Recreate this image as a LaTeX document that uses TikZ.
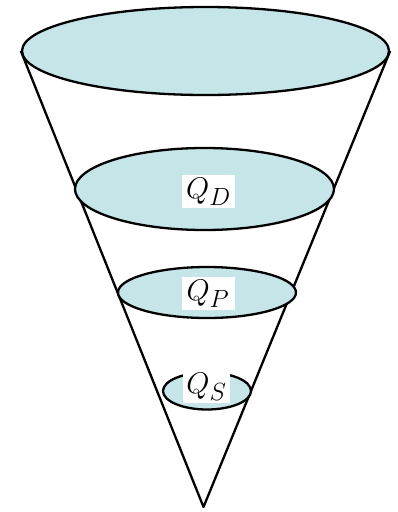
\documentclass[tikz,border=0pt]{standalone}
\usepackage{graphicx}
\usetikzlibrary{shapes.geometric,backgrounds}
\definecolor{disc}{RGB}{197,229,232}
\tikzset{
  disc/.style={ellipse, draw=black, fill=disc, line width=2.3pt, inner sep=0pt},
  conel/.style={draw=black, line width=2.3pt, line join=round},
  lbl/.style={fill=white, inner sep=0pt, minimum width=53pt, minimum height=33pt, font=\fontsize{24.88}{28}\selectfont}
}
\newcommand{\biglbl}[1]{\scalebox{1.2}{$#1$}}
\begin{document}
\begin{tikzpicture}[x=1pt,y=-1pt]
\useasboundingbox (0,0) rectangle (398,512);
\node[disc, minimum width=367pt, minimum height=88pt] (top) at (205.5,51) {};
\coordinate (apex) at (203.5,507);
\begin{scope}[on background layer]
\draw[conel] (top.west) -- (apex) -- (top.east);
\end{scope}
\node[disc, minimum width=259pt, minimum height=82pt] (d) at (204.5,189) {};
\node[disc, minimum width=178pt, minimum height=51pt] (p) at (207,292.5) {};
\node[disc, minimum width=88pt, minimum height=37pt] (s) at (207,391) {};
\node[lbl] (qd) at (208.5,191.5) {\biglbl{Q_D}};
\node[lbl] (qp) at (208,293.5) {\biglbl{Q_P}};
\node[lbl, minimum width=47pt] (qs) at (206.5,386.5) {\biglbl{Q_S}};
\end{tikzpicture}
\end{document}
